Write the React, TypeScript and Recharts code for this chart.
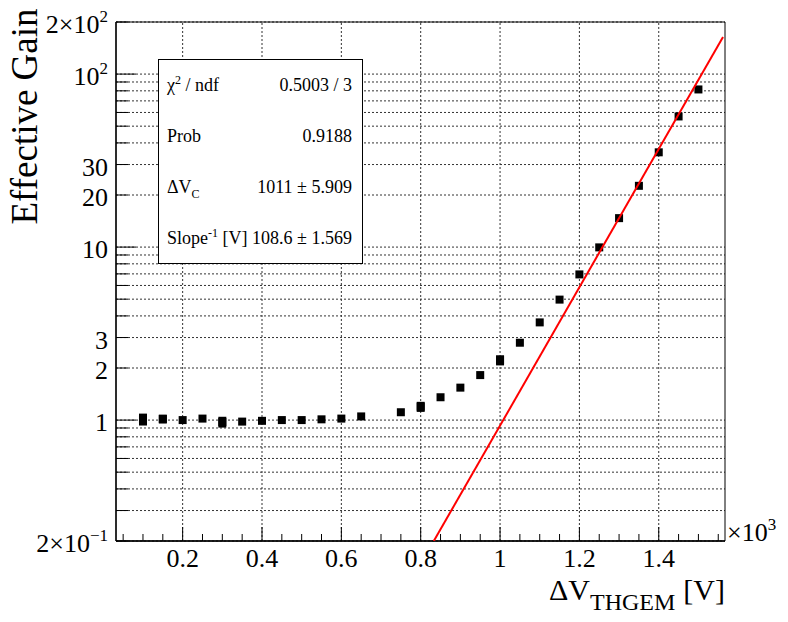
import React from 'react';
import {
  ScatterChart,
  Scatter,
  XAxis,
  YAxis,
  CartesianGrid,
  ReferenceLine,
  ReferenceArea,
  ErrorBar,
} from 'recharts';

// ---------- data ----------
const xValues = [
  0.1, 0.15, 0.2, 0.25, 0.3, 0.35, 0.4, 0.45, 0.5, 0.55, 0.6, 0.65,
  0.75, 0.8, 0.85, 0.9, 0.95, 1.0, 1.05, 1.1, 1.15, 1.2, 1.25, 1.3,
  1.35, 1.4, 1.45, 1.5,
];
const gainValues = [
  1.01, 1.015, 1.0, 1.02, 0.975, 0.98, 0.99, 1.0, 1.0, 1.01, 1.02, 1.05,
  1.11, 1.195, 1.355, 1.54, 1.82, 2.22, 2.8, 3.67, 4.97, 6.95, 9.96, 14.7,
  22.6, 35.3, 56.9, 81.5,
];
const gainErrors = [
  0.08, 0.06, 0, 0, 0.07, 0, 0, 0, 0, 0, 0, 0,
  0, 0.08, 0, 0, 0, 0.15, 0, 0, 0, 0, 0, 0,
  0, 0, 0, 0,
];
const fitX = [0.833, 1.562];
const fitY = [0.2, 164];

const X_MIN = 0.032;
const X_MAX = 1.567;
const Y_MIN = 0.2;
const Y_MAX = 200;

const xTicks = [
  0.05, 0.1, 0.15, 0.2, 0.25, 0.3, 0.35, 0.4, 0.45, 0.5, 0.55, 0.6, 0.65,
  0.7, 0.75, 0.8, 0.85, 0.9, 0.95, 1.0, 1.05, 1.1, 1.15, 1.2, 1.25, 1.3,
  1.35, 1.4, 1.45, 1.5, 1.55,
];
const xMajorTicks = [0.2, 0.4, 0.6, 0.8, 1.0, 1.2, 1.4];
const xTickLabels = ['0.2', '0.4', '0.6', '0.8', '1', '1.2', '1.4'];

const yTicks = [
  0.2, 0.3, 0.4, 0.5, 0.6, 0.7, 0.8, 0.9, 1, 2, 3, 4, 5, 6, 7, 8, 9, 10,
  20, 30, 40, 50, 60, 70, 80, 90, 100, 200,
];
const yLabelValues = [0.2, 1, 2, 3, 10, 20, 30, 100, 200];
const yLabelBases = ['2×10', '1', '2', '3', '10', '20', '30', '10', '2×10'];
const yLabelExps = ['−1', '', '', '', '', '', '', '2', '2'];

const statsValues = ['0.5003 / 3', '0.9188', '1011 ± 5.909', '108.6 ± 1.569'];

const points = xValues.map((x, i) => ({ x, y: gainValues[i], err: gainErrors[i] }));
const fitData = fitX.map((x, i) => ({ x, y: fitY[i] }));

// ---------- style ----------
const FONT = 'Liberation Serif, Times New Roman, serif';
const GRID = '#333';
const DASH = '2 2';

const near = (a: number, b: number) => Math.abs(a - b) < 1e-6;

const YTick = (props: any) => {
  const { x, y, payload } = props;
  const v = payload.value as number;
  const lg = Math.log10(v);
  const major = Math.abs(lg - Math.round(lg)) < 1e-9;
  const len = major ? 20 : 12;
  const idx = yLabelValues.findIndex((t) => near(t, v));
  return (
    <g>
      <line x1={x} x2={x + len} y1={y} y2={y} stroke="#000" strokeWidth={1} />
      {idx >= 0 && (
        <text
          x={x - 8}
          y={y + 11}
          textAnchor="end"
          fontFamily={FONT}
          fontSize={26}
          fill="#000"
        >
          {yLabelBases[idx]}
          {yLabelExps[idx] && (
            <tspan dy={-11} fontSize={17}>
              {yLabelExps[idx]}
            </tspan>
          )}
        </text>
      )}
    </g>
  );
};

const XTick = (props: any) => {
  const { x, y, payload } = props;
  const v = payload.value as number;
  const idx = xMajorTicks.findIndex((t) => near(t, v));
  const major = idx >= 0;
  const len = major ? 14 : 7;
  return (
    <g>
      <line x1={x} x2={x} y1={y} y2={y - len} stroke="#000" strokeWidth={1} />
      {major && (
        <text
          x={x}
          y={y + 26}
          textAnchor="middle"
          fontFamily={FONT}
          fontSize={26}
          fill="#000"
        >
          {xTickLabels[idx]}
        </text>
      )}
    </g>
  );
};

const Square = (props: any) => {
  const { cx, cy } = props;
  return <rect x={cx - 4} y={cy - 4} width={8} height={8} fill="#000" />;
};

export default function App() {
  return (
    <div style={{ position: 'absolute', left: 0, top: 0, width: 788, height: 622, background: '#fff' }}>
      <ScatterChart
        width={788}
        height={622}
        margin={{ top: 22, right: 63, bottom: 0, left: 0 }}
      >
        <CartesianGrid
          vertical={false}
          horizontal={true}
          stroke={GRID}
          strokeDasharray={DASH}
        />
        {xMajorTicks.map((v) => (
          <ReferenceLine
            key={v}
            x={v}
            stroke={GRID}
            strokeDasharray={DASH}
          />
        ))}
        <XAxis
          type="number"
          dataKey="x"
          domain={[X_MIN, X_MAX]}
          ticks={xTicks}
          interval={0}
          allowDataOverflow
          height={81}
          tickSize={0}
          tickMargin={0}
          tickLine={false}
          tick={XTick}
          axisLine={{ stroke: '#000', strokeWidth: 1.3 }}
        />
        <YAxis
          type="number"
          dataKey="y"
          scale="log"
          domain={[Y_MIN, Y_MAX]}
          ticks={yTicks}
          interval={0}
          allowDataOverflow
          width={116}
          tickSize={0}
          tickMargin={0}
          tickLine={false}
          tick={YTick}
          axisLine={{ stroke: '#000', strokeWidth: 1.3 }}
        />
        <ReferenceArea
          x1={X_MIN}
          x2={X_MAX}
          y1={Y_MIN}
          y2={Y_MAX}
          fill="none"
          fillOpacity={0}
          stroke="#000"
          strokeWidth={1}
        />
        <Scatter
          data={points}
          shape={Square}
          isAnimationActive={false}
        >
          <ErrorBar
            dataKey="err"
            direction="y"
            width={0}
            strokeWidth={8}
            stroke="#000"
            isAnimationActive={false}
          />
        </Scatter>
        <Scatter
          data={fitData}
          line={{ stroke: '#ff0000', strokeWidth: 2 }}
          shape={() => <g />}
          isAnimationActive={false}
        />
      </ScatterChart>

      <svg
        width={788}
        height={622}
        style={{ position: 'absolute', left: 0, top: 0, pointerEvents: 'none' }}
      >
        {/* Y axis title */}
        <text
          transform="rotate(-90)"
          x={-116.5}
          y={37}
          textAnchor="middle"
          fontFamily={FONT}
          fontSize={37}
          fill="#000"
        >
          Effective Gain
        </text>
        {/* X axis title */}
        <text x={725} y={600} textAnchor="end" fontFamily={FONT} fontSize={30} fill="#000">
          ΔV
          <tspan dy={10} fontSize={24}>THGEM</tspan>
          <tspan dy={-10} dx={8}>[V]</tspan>
        </text>
        {/* x10^3 */}
        <text x={727} y={541} fontFamily={FONT} fontSize={26} fill="#000">
          ×10
          <tspan dy={-11} fontSize={17}>3</tspan>
        </text>

        {/* stats box */}
        <rect x={158.5} y={59.5} width={204} height={204} fill="#fff" stroke="#000" strokeWidth={1} />
        <g fontFamily={FONT} fontSize={18} fill="#000">
          <text x={167} y={91}>
            χ<tspan dy={-7} fontSize={12}>2</tspan>
            <tspan dy={7}> / ndf</tspan>
          </text>
          <text x={167} y={142}>Prob</text>
          <text x={167} y={193}>
            ΔV<tspan dy={5} fontSize={12}>C</tspan>
          </text>
          <text x={167} y={244}>
            Slope<tspan dy={-7} fontSize={12}>-1</tspan>
            <tspan dy={7}> [V]</tspan>
          </text>
          {statsValues.map((s, i) => (
            <text key={i} x={352} y={91 + i * 51} textAnchor="end">
              {s}
            </text>
          ))}
        </g>
      </svg>
    </div>
  );
}
